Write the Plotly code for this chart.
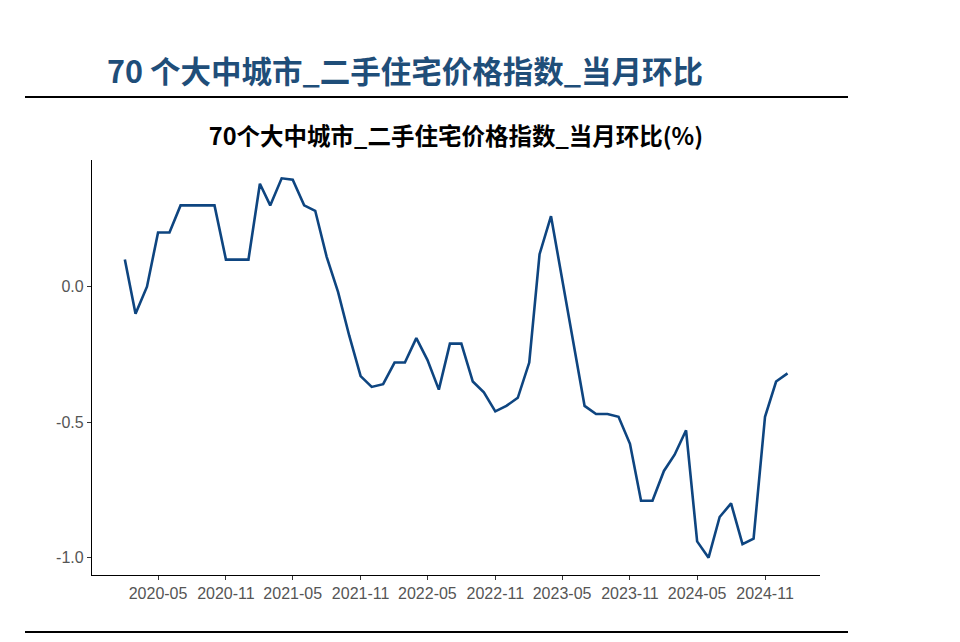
import pandas as pd
import plotly.graph_objects as go

# monthly data, 2020-02 .. 2025-01
months = pd.date_range("2020-02-01", "2025-01-01", freq="MS")
mom_pct = [
    0.1, -0.1, 0.0, 0.2, 0.2, 0.3, 0.3, 0.3, 0.3, 0.1, 0.1,
    0.1, 0.38, 0.3, 0.4, 0.395, 0.3, 0.28, 0.11, -0.02, -0.18, -0.33, -0.37,
    -0.36, -0.28, -0.28, -0.19, -0.27, -0.38, -0.21, -0.21, -0.35, -0.39, -0.46, -0.44,
    -0.41, -0.28, 0.12, 0.26, 0.03, -0.2, -0.44, -0.47, -0.47, -0.48, -0.58, -0.79,
    -0.79, -0.68, -0.62, -0.53, -0.94, -1.0, -0.85, -0.80, -0.95, -0.93, -0.48, -0.35,
    -0.32,
]
y_ticks = [-1.0, -0.5, 0.0]
y_tick_text = ["-1.0", "-0.5", "0.0"]
page_title = "70 个大中城市_二手住宅价格指数_当月环比"
chart_title = "70个大中城市_二手住宅价格指数_当月环比(%)"

W, H = 960, 642
OFF = 8  # page margin of the browser
L, R, T, B = 92 - OFF, 140 + OFF, 160 - OFF, 67 + OFF
pw, ph = W - L - R, H - T - B


def px(x):
    return (x - OFF - L) / pw


def py(y):
    return (H - B - (y - OFF)) / ph


fig = go.Figure(go.Scatter(
    x=months, y=mom_pct, mode="lines",
    line=dict(color="#0e4580", width=2.6),
    showlegend=False,
))

fig.update_layout(
    width=W, height=H,
    margin=dict(l=L, r=R, t=T, b=B),
    paper_bgcolor="white", plot_bgcolor="white",
    font=dict(family="Liberation Sans, Arial, sans-serif"),
    title=dict(
        text="<b>" + chart_title + "</b>",
        x=px(456), xref="paper", xanchor="center",
        y=1 - (137 - OFF) / H, yref="container", yanchor="middle",
        font=dict(family="Noto Sans CJK SC", size=23.5, color="black"),
    ),
    xaxis=dict(
        range=["2019-11-04", "2025-03-30"],
        tick0="2020-05-01", dtick="M6", tickformat="%Y-%m",
        showline=True, linecolor="black", linewidth=1.3,
        ticks="outside", ticklen=4, tickcolor="#333",
        showgrid=False, zeroline=False,
        tickfont=dict(size=16, color="#555"),
    ),
    yaxis=dict(
        range=[-1.064, 0.4675],
        tickvals=y_ticks, ticktext=y_tick_text,
        showline=True, linecolor="black", linewidth=1.3,
        ticks="outside", ticklen=4, tickcolor="#333",
        showgrid=False, zeroline=False,
        tickfont=dict(size=16, color="#555"),
    ),
)

fig.add_annotation(
    text="<b>" + page_title + "</b>",
    xref="paper", yref="paper", x=px(105), y=py(70),
    xanchor="left", yanchor="middle", showarrow=False,
    font=dict(family="Noto Sans CJK SC", size=30.5, color="#1f4e79"),
)

for yy in (97, 632):
    fig.add_shape(
        type="line", xref="paper", yref="paper",
        x0=px(25), x1=px(848), y0=py(yy), y1=py(yy),
        line=dict(color="black", width=2),
    )

fig.write_html("out.html")
